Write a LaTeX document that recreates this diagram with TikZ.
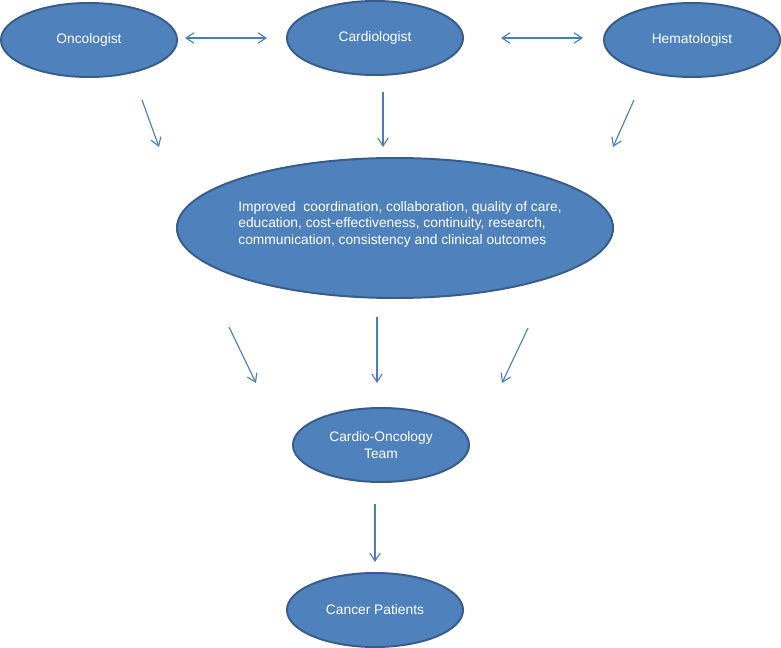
\documentclass[tikz,border=0pt]{standalone}
\usepackage{fontspec}
\setsansfont{Liberation Sans}
\usetikzlibrary{positioning,arrows.meta,shapes.geometric}
\definecolor{officeblue}{RGB}{79,129,189}
\definecolor{edgeblue}{RGB}{56,93,138}
\definecolor{arrowblue}{RGB}{74,126,187}
\newcommand{\flatlines}[1]{\smash{\makebox[0pt]{\hspace{0.25cm}\begin{tabular}{@{}l@{}}#1\end{tabular}}}}

\begin{document}
\begin{tikzpicture}[
  x=0.025cm, y=-0.025cm,
  role/.style={ellipse,draw=edgeblue,line width=1.4pt,fill=officeblue,text=white,font=\sffamily\fontsize{9.8}{12}\selectfont,minimum width=4.4cm,minimum height=1.85cm,inner sep=0pt,align=center},
  benefit/.style={role,minimum width=10.9cm,minimum height=3.5cm,font=\sffamily\fontsize{9.8}{11.6}\selectfont},
  arrow/.style={-{Straight Barb[length=2mm,width=2.6mm]},arrowblue,line width=0.8pt},
  twoway/.style={arrow,{Straight Barb[length=2mm,width=2.6mm]}-{Straight Barb[length=2mm,width=2.6mm]}}
]
\useasboundingbox (0,0) rectangle (781,648);

\node[role] (onc) at (89,40) {Oncologist};
\node[role] (card) at (375,38) {Cardiologist};
\node[role] (hem) at (692,40) {Hematologist};

\node[benefit] (gain) at (395,228) {\flatlines{Improved~ coordination, collaboration, quality of care,\\education, cost-effectiveness, continuity, research,\\communication, consistency and clinical outcomes}};

\node[role] (team) at (381,445) {Cardio-Oncology\\Team};
\node[role] (pat) at (375,610) {Cancer Patients};

\coordinate (onc-r) at (185,38);
\coordinate (card-l) at (267,38);
\coordinate (card-r) at (501,38);
\coordinate (hem-l) at (583,38);

\coordinate (onc-a) at (142,100);
\coordinate (onc-b) at (159,147);
\coordinate (card-a) at (383,92);
\coordinate (card-b) at (383,147);
\coordinate (hem-a) at (634,100);
\coordinate (hem-b) at (613,147);

\coordinate (gain-l) at (229,327);
\coordinate (team-l) at (256,383);
\coordinate (gain-m) at (377,317);
\coordinate (team-m) at (377,383);
\coordinate (gain-r) at (528,328);
\coordinate (team-r) at (502,383);

\coordinate (team-a) at (375,504);
\coordinate (pat-a) at (375,562);

\draw[twoway] (onc-r) -- (card-l);
\draw[twoway] (card-r) -- (hem-l);

\draw[arrow] (onc-a) -- (onc-b);
\draw[arrow] (card-a) -- (card-b);
\draw[arrow] (hem-a) -- (hem-b);

\draw[arrow] (gain-l) -- (team-l);
\draw[arrow] (gain-m) -- (team-m);
\draw[arrow] (gain-r) -- (team-r);

\draw[arrow] (team-a) -- (pat-a);

\end{tikzpicture}
\end{document}
